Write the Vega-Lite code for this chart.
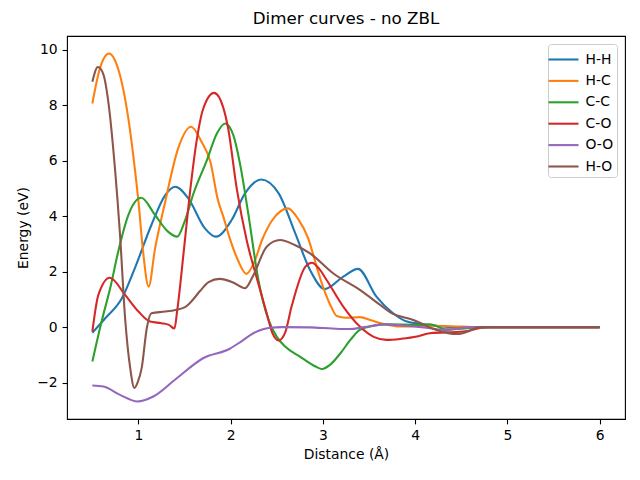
{
  "$schema": "https://vega.github.io/schema/vega-lite/v6.json",
  "autosize": "none",
  "width": 558,
  "height": 383,
  "padding": {"left": 67, "top": 36, "right": 15, "bottom": 61},
  "background": "white",
  "title": {"text": "Dimer curves - no ZBL", "fontSize": 16.7, "fontWeight": "normal", "font": "DejaVu Sans", "offset": 8, "color": "black"},
  "config": {
    "font": "DejaVu Sans",
    "view": {"stroke": "black", "strokeWidth": 1.1},
    "axis": {
      "grid": false, "domain": false,
      "tickColor": "black", "tickWidth": 1.1, "tickSize": 4.9,
      "labelFontSize": 13.9, "labelColor": "black", "labelPadding": 4.9, "labelFont": "DejaVu Sans",
      "titleFontSize": 13.9, "titleFontWeight": "normal", "titleColor": "black", "titleFont": "DejaVu Sans"
    }
  },
  "data": {
    "values": [
      {"pair": "H-H", "d": 0.5, "e": -0.2},
      {"pair": "H-H", "d": 0.64, "e": 0.32},
      {"pair": "H-H", "d": 0.82, "e": 1.04},
      {"pair": "H-H", "d": 0.96, "e": 2.12},
      {"pair": "H-H", "d": 1.14, "e": 3.68},
      {"pair": "H-H", "d": 1.29, "e": 4.76},
      {"pair": "H-H", "d": 1.4, "e": 5.06},
      {"pair": "H-H", "d": 1.54, "e": 4.64},
      {"pair": "H-H", "d": 1.72, "e": 3.56},
      {"pair": "H-H", "d": 1.84, "e": 3.26},
      {"pair": "H-H", "d": 2.01, "e": 3.86},
      {"pair": "H-H", "d": 2.155, "e": 4.82},
      {"pair": "H-H", "d": 2.33, "e": 5.32},
      {"pair": "H-H", "d": 2.52, "e": 4.82},
      {"pair": "H-H", "d": 2.7, "e": 3.38},
      {"pair": "H-H", "d": 2.86, "e": 2.06},
      {"pair": "H-H", "d": 3.02, "e": 1.37},
      {"pair": "H-H", "d": 3.22, "e": 1.82},
      {"pair": "H-H", "d": 3.38, "e": 2.1},
      {"pair": "H-H", "d": 3.58, "e": 1.1},
      {"pair": "H-H", "d": 3.76, "e": 0.5},
      {"pair": "H-H", "d": 3.91, "e": 0.2},
      {"pair": "H-H", "d": 4.05, "e": 0.12},
      {"pair": "H-H", "d": 4.2, "e": 0.06},
      {"pair": "H-H", "d": 4.5, "e": -0.02},
      {"pair": "H-H", "d": 4.8, "e": 0},
      {"pair": "H-H", "d": 6.0, "e": 0},

      {"pair": "H-C", "d": 0.5, "e": 8.06},
      {"pair": "H-C", "d": 0.58, "e": 9.3},
      {"pair": "H-C", "d": 0.68, "e": 9.86},
      {"pair": "H-C", "d": 0.78, "e": 9.3},
      {"pair": "H-C", "d": 0.89, "e": 7.52},
      {"pair": "H-C", "d": 0.96, "e": 5.72},
      {"pair": "H-C", "d": 1.0, "e": 4.52},
      {"pair": "H-C", "d": 1.05, "e": 2.72},
      {"pair": "H-C", "d": 1.11, "e": 1.46},
      {"pair": "H-C", "d": 1.18, "e": 2.84},
      {"pair": "H-C", "d": 1.29, "e": 4.52},
      {"pair": "H-C", "d": 1.43, "e": 6.44},
      {"pair": "H-C", "d": 1.57, "e": 7.22},
      {"pair": "H-C", "d": 1.68, "e": 6.7},
      {"pair": "H-C", "d": 1.78, "e": 5.95},
      {"pair": "H-C", "d": 1.86, "e": 4.6},
      {"pair": "H-C", "d": 1.92, "e": 3.98},
      {"pair": "H-C", "d": 1.99, "e": 3.2},
      {"pair": "H-C", "d": 2.08, "e": 2.4},
      {"pair": "H-C", "d": 2.17, "e": 1.92},
      {"pair": "H-C", "d": 2.25, "e": 2.3},
      {"pair": "H-C", "d": 2.34, "e": 3.14},
      {"pair": "H-C", "d": 2.45, "e": 3.85},
      {"pair": "H-C", "d": 2.62, "e": 4.28},
      {"pair": "H-C", "d": 2.73, "e": 3.9},
      {"pair": "H-C", "d": 2.84, "e": 3.2},
      {"pair": "H-C", "d": 2.93, "e": 2.2},
      {"pair": "H-C", "d": 3.0, "e": 1.46},
      {"pair": "H-C", "d": 3.08, "e": 0.8},
      {"pair": "H-C", "d": 3.15, "e": 0.4},
      {"pair": "H-C", "d": 3.25, "e": 0.34},
      {"pair": "H-C", "d": 3.4, "e": 0.36},
      {"pair": "H-C", "d": 3.52, "e": 0.25},
      {"pair": "H-C", "d": 3.65, "e": 0.12},
      {"pair": "H-C", "d": 3.84, "e": 0.02},
      {"pair": "H-C", "d": 4.0, "e": 0.03},
      {"pair": "H-C", "d": 4.2, "e": 0.05},
      {"pair": "H-C", "d": 4.5, "e": 0.02},
      {"pair": "H-C", "d": 4.8, "e": 0},
      {"pair": "H-C", "d": 6.0, "e": 0},

      {"pair": "C-C", "d": 0.5, "e": -1.24},
      {"pair": "C-C", "d": 0.6, "e": 0.2},
      {"pair": "C-C", "d": 0.7, "e": 1.5},
      {"pair": "C-C", "d": 0.78, "e": 2.72},
      {"pair": "C-C", "d": 0.89, "e": 4.04},
      {"pair": "C-C", "d": 1.03, "e": 4.66},
      {"pair": "C-C", "d": 1.18, "e": 4.04},
      {"pair": "C-C", "d": 1.32, "e": 3.44},
      {"pair": "C-C", "d": 1.42, "e": 3.26},
      {"pair": "C-C", "d": 1.5, "e": 3.8},
      {"pair": "C-C", "d": 1.6, "e": 4.85},
      {"pair": "C-C", "d": 1.74, "e": 6.0},
      {"pair": "C-C", "d": 1.85, "e": 6.98},
      {"pair": "C-C", "d": 1.94, "e": 7.34},
      {"pair": "C-C", "d": 2.03, "e": 6.9},
      {"pair": "C-C", "d": 2.1, "e": 5.9},
      {"pair": "C-C", "d": 2.19, "e": 4.1},
      {"pair": "C-C", "d": 2.3, "e": 1.7},
      {"pair": "C-C", "d": 2.41, "e": 0.26},
      {"pair": "C-C", "d": 2.5, "e": -0.35},
      {"pair": "C-C", "d": 2.59, "e": -0.7},
      {"pair": "C-C", "d": 2.75, "e": -1.06},
      {"pair": "C-C", "d": 2.92, "e": -1.42},
      {"pair": "C-C", "d": 2.99, "e": -1.51},
      {"pair": "C-C", "d": 3.08, "e": -1.35},
      {"pair": "C-C", "d": 3.19, "e": -0.94},
      {"pair": "C-C", "d": 3.3, "e": -0.45},
      {"pair": "C-C", "d": 3.4, "e": -0.1},
      {"pair": "C-C", "d": 3.55, "e": 0.05},
      {"pair": "C-C", "d": 3.69, "e": 0.1},
      {"pair": "C-C", "d": 4.05, "e": 0.08},
      {"pair": "C-C", "d": 4.16, "e": 0.1},
      {"pair": "C-C", "d": 4.34, "e": -0.08},
      {"pair": "C-C", "d": 4.5, "e": -0.06},
      {"pair": "C-C", "d": 4.7, "e": 0},
      {"pair": "C-C", "d": 6.0, "e": 0},

      {"pair": "C-O", "d": 0.5, "e": -0.16},
      {"pair": "C-O", "d": 0.565, "e": 1.16},
      {"pair": "C-O", "d": 0.69, "e": 1.78},
      {"pair": "C-O", "d": 0.855, "e": 1.16},
      {"pair": "C-O", "d": 1.0, "e": 0.56},
      {"pair": "C-O", "d": 1.125, "e": 0.2},
      {"pair": "C-O", "d": 1.25, "e": 0.14},
      {"pair": "C-O", "d": 1.33, "e": 0.08},
      {"pair": "C-O", "d": 1.39, "e": -0.05},
      {"pair": "C-O", "d": 1.42, "e": 0.6},
      {"pair": "C-O", "d": 1.49, "e": 2.7},
      {"pair": "C-O", "d": 1.56, "e": 4.9},
      {"pair": "C-O", "d": 1.63, "e": 6.7},
      {"pair": "C-O", "d": 1.7, "e": 7.85},
      {"pair": "C-O", "d": 1.82, "e": 8.44},
      {"pair": "C-O", "d": 1.92, "e": 7.9},
      {"pair": "C-O", "d": 1.97, "e": 7.2},
      {"pair": "C-O", "d": 2.065, "e": 5.0},
      {"pair": "C-O", "d": 2.175, "e": 3.1},
      {"pair": "C-O", "d": 2.28, "e": 1.8},
      {"pair": "C-O", "d": 2.39, "e": 0.5},
      {"pair": "C-O", "d": 2.45, "e": -0.2},
      {"pair": "C-O", "d": 2.52, "e": -0.48},
      {"pair": "C-O", "d": 2.59, "e": -0.2},
      {"pair": "C-O", "d": 2.66, "e": 0.74},
      {"pair": "C-O", "d": 2.81, "e": 2.18},
      {"pair": "C-O", "d": 2.88, "e": 2.32},
      {"pair": "C-O", "d": 2.96, "e": 2.1},
      {"pair": "C-O", "d": 3.04, "e": 1.7},
      {"pair": "C-O", "d": 3.22, "e": 0.74},
      {"pair": "C-O", "d": 3.4, "e": 0.02},
      {"pair": "C-O", "d": 3.55, "e": -0.35},
      {"pair": "C-O", "d": 3.69, "e": -0.46},
      {"pair": "C-O", "d": 3.85, "e": -0.42},
      {"pair": "C-O", "d": 4.02, "e": -0.34},
      {"pair": "C-O", "d": 4.16, "e": -0.22},
      {"pair": "C-O", "d": 4.52, "e": -0.16},
      {"pair": "C-O", "d": 4.78, "e": 0},
      {"pair": "C-O", "d": 6.0, "e": 0},

      {"pair": "O-O", "d": 0.5, "e": -2.1},
      {"pair": "O-O", "d": 0.62, "e": -2.14},
      {"pair": "O-O", "d": 0.8, "e": -2.44},
      {"pair": "O-O", "d": 0.99, "e": -2.68},
      {"pair": "O-O", "d": 1.16, "e": -2.5},
      {"pair": "O-O", "d": 1.415, "e": -1.84},
      {"pair": "O-O", "d": 1.7, "e": -1.12},
      {"pair": "O-O", "d": 1.99, "e": -0.78},
      {"pair": "O-O", "d": 2.12, "e": -0.5},
      {"pair": "O-O", "d": 2.245, "e": -0.22},
      {"pair": "O-O", "d": 2.35, "e": -0.08},
      {"pair": "O-O", "d": 2.43, "e": -0.02},
      {"pair": "O-O", "d": 2.55, "e": 0},
      {"pair": "O-O", "d": 2.86, "e": -0.01},
      {"pair": "O-O", "d": 3.1, "e": -0.05},
      {"pair": "O-O", "d": 3.29, "e": -0.07},
      {"pair": "O-O", "d": 3.45, "e": 0.0},
      {"pair": "O-O", "d": 3.65, "e": 0.1},
      {"pair": "O-O", "d": 3.9, "e": 0.05},
      {"pair": "O-O", "d": 4.16, "e": -0.04},
      {"pair": "O-O", "d": 4.34, "e": -0.1},
      {"pair": "O-O", "d": 4.56, "e": -0.01},
      {"pair": "O-O", "d": 4.8, "e": 0},
      {"pair": "O-O", "d": 6.0, "e": 0},

      {"pair": "H-O", "d": 0.5, "e": 8.84},
      {"pair": "H-O", "d": 0.56, "e": 9.37},
      {"pair": "H-O", "d": 0.62, "e": 9.1},
      {"pair": "H-O", "d": 0.673, "e": 8.12},
      {"pair": "H-O", "d": 0.745, "e": 5.72},
      {"pair": "H-O", "d": 0.8, "e": 3.32},
      {"pair": "H-O", "d": 0.855, "e": 0.32},
      {"pair": "H-O", "d": 0.91, "e": -1.47},
      {"pair": "H-O", "d": 0.955, "e": -2.19},
      {"pair": "H-O", "d": 0.99, "e": -2.0},
      {"pair": "H-O", "d": 1.035, "e": -1.47},
      {"pair": "H-O", "d": 1.09, "e": -0.04},
      {"pair": "H-O", "d": 1.14, "e": 0.5},
      {"pair": "H-O", "d": 1.29, "e": 0.56},
      {"pair": "H-O", "d": 1.4, "e": 0.62},
      {"pair": "H-O", "d": 1.505, "e": 0.72},
      {"pair": "H-O", "d": 1.58, "e": 0.95},
      {"pair": "H-O", "d": 1.667, "e": 1.3},
      {"pair": "H-O", "d": 1.76, "e": 1.62},
      {"pair": "H-O", "d": 1.88, "e": 1.74},
      {"pair": "H-O", "d": 2.02, "e": 1.62},
      {"pair": "H-O", "d": 2.155, "e": 1.4},
      {"pair": "H-O", "d": 2.25, "e": 1.9},
      {"pair": "H-O", "d": 2.39, "e": 2.9},
      {"pair": "H-O", "d": 2.535, "e": 3.14},
      {"pair": "H-O", "d": 2.7, "e": 2.95},
      {"pair": "H-O", "d": 2.86, "e": 2.66},
      {"pair": "H-O", "d": 3.11, "e": 1.94},
      {"pair": "H-O", "d": 3.4, "e": 1.34},
      {"pair": "H-O", "d": 3.62, "e": 0.8},
      {"pair": "H-O", "d": 3.73, "e": 0.53},
      {"pair": "H-O", "d": 3.98, "e": 0.26},
      {"pair": "H-O", "d": 4.23, "e": -0.1},
      {"pair": "H-O", "d": 4.45, "e": -0.25},
      {"pair": "H-O", "d": 4.58, "e": -0.15},
      {"pair": "H-O", "d": 4.7, "e": 0},
      {"pair": "H-O", "d": 6.0, "e": 0}
    ]
  },
  "mark": {"type": "line", "strokeWidth": 2.08, "interpolate": "monotone", "clip": true},
  "encoding": {
    "x": {
      "field": "d", "type": "quantitative", "title": "Distance (Å)",
      "scale": {"domain": [0.225, 6.275], "nice": false, "zero": false},
      "axis": {"values": [1, 2, 3, 4, 5, 6], "format": "d", "titlePadding": 5}
    },
    "y": {
      "field": "e", "type": "quantitative", "title": "Energy (eV)",
      "scale": {"domain": [-3.31, 10.49], "nice": false, "zero": false},
      "axis": {"values": [-2, 0, 2, 4, 6, 8, 10], "format": "d", "titlePadding": 6}
    },
    "color": {
      "field": "pair", "type": "nominal", "title": null,
      "scale": {
        "domain": ["H-H", "H-C", "C-C", "C-O", "O-O", "H-O"],
        "range": ["#1f77b4", "#ff7f0e", "#2ca02c", "#d62728", "#9467bd", "#8c564b"]
      },
      "legend": {
        "orient": "top-right", "offset": 8,
        "symbolType": "M-1.43,0H1.43", "symbolSize": 441, "symbolStrokeWidth": 2.08,
        "labelFontSize": 13.9, "labelColor": "black", "labelFont": "DejaVu Sans",
        "rowPadding": 2.4, "labelOffset": 10,
        "padding": 3.5, "fillColor": "white", "strokeColor": "#cccccc", "cornerRadius": 3
      }
    },
    "order": {"field": "d", "type": "quantitative"}
  }
}
